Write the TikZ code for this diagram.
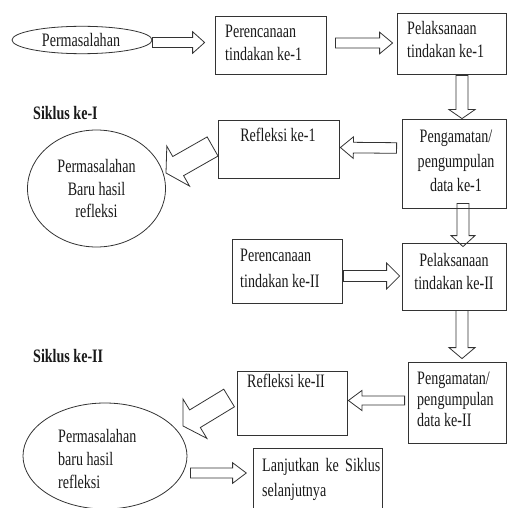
\documentclass[tikz,border=0pt]{standalone}
\usepackage{fontspec}
\setmainfont{Liberation Serif}[FakeStretch=0.74]
\usetikzlibrary{calc,shapes.geometric}
\definecolor{linec}{gray}{0.2}
\newcommand\tp{\rule{0pt}{16pt}}
\newcommand\blkarrow[5]{%
  \draw[arrowline]
    ($(#1)!#3!90:(#2)$) --
    ($($(#2)!#5!(#1)$)!#3!90:(#2)$) --
    ($($(#2)!#5!(#1)$)!#4!90:(#2)$) --
    (#2) --
    ($($(#2)!#5!(#1)$)!#4!-90:(#2)$) --
    ($($(#2)!#5!(#1)$)!#3!-90:(#2)$) --
    ($(#1)!#3!-90:(#2)$) -- cycle;}
\tikzset{
  boxs/.style={draw=linec, line width=0.8pt, rectangle, inner sep=0pt},
  ells/.style={draw=linec, line width=0.8pt, ellipse, inner sep=0pt},
  arrowline/.style={draw=linec, line width=0.8pt, line join=miter},
  txt/.style={inner sep=0pt, text=black!90, font=\fontsize{19}{23.5}\selectfont},
  txtl/.style={txt, anchor=north west, align=left},
  txtc/.style={txt, anchor=north, align=center},
  head/.style={inner sep=0pt, anchor=north west, text=black!90, font=\fontsize{19}{22}\selectfont\bfseries}
}
\begin{document}
\begin{tikzpicture}[x=1pt, y=-1pt]
\useasboundingbox (0,0) rectangle (507,508);
\clip (0,0) rectangle (507,508);

% shapes
\node[ells, minimum width=140pt, minimum height=27.4pt] (ell1) at (82,40) {};
\node[boxs, minimum width=111pt, minimum height=58pt] (box1) at (270.5,45) {};
\node[boxs, minimum width=109pt, minimum height=61pt] (box2) at (451.5,43.5) {};
\node[boxs, minimum width=104pt, minimum height=89pt] (box3) at (454,163.5) {};
\node[boxs, minimum width=121pt, minimum height=58pt] (refl1) at (278.5,149) {};
\node[ells, minimum width=138pt, minimum height=117pt] (ell2) at (96.5,188.5) {};
\node[boxs, minimum width=110pt, minimum height=64pt] (per2) at (287,271) {};
\node[boxs, minimum width=104pt, minimum height=67pt] (pel2) at (454,276.5) {};
\node[boxs, minimum width=98pt, minimum height=81pt] (peng2) at (457,402.5) {};
\node[boxs, minimum width=110pt, minimum height=64pt] (refl2) at (292,403) {};
\node[ells, minimum width=164pt, minimum height=106pt] (ell3) at (105,456) {};
\node[boxs, minimum width=129pt, minimum height=67pt] (lanj) at (317.5,481.5) {};

% texts
\node[txt, anchor=center] (t0) at (81,40) {Permasalahan};
\node[txtl] (t1) at (225,21.3) {\tp Perencanaan\\tindakan ke-1};
\node[txtl, font=\fontsize{19}{23}\selectfont] (t2) at (407,18.3) {\tp Pelaksanaan\\tindakan ke-1};
\node[txtc, font=\fontsize{19}{24.5}\selectfont] (t3) at (456,126.3) {\tp Pengamatan/\\pengumpulan\\data ke-1};
\node[txtc] (t4) at (278,125.3) {\tp Refleksi ke-1};
\node[txtc, font=\fontsize{19}{22.5}\selectfont] (t5) at (96.5,156.3) {\tp Permasalahan\\Baru hasil\\refleksi};
\node[txtl, font=\fontsize{19}{26}\selectfont] (t6) at (240,245.3) {\tp Perencanaan\\tindakan ke-II};
\node[txtc, font=\fontsize{19}{23}\selectfont] (t7) at (454,250.3) {\tp Pelaksanaan\\tindakan ke-II};
\node[txtl, font=\fontsize{19}{21}\selectfont] (t8) at (417,368.3) {\tp Pengamatan/\\pengumpulan\\data ke-II};
\node[txtl] (t9) at (247,371.3) {\tp Refleksi ke-II};
\node[txtl, font=\fontsize{19}{23}\selectfont] (t10) at (58,426.3) {\tp Permasalahan\\baru hasil\\refleksi};
\node[txtl, font=\fontsize{19}{25}\selectfont] (t11) at (262,455.3) {\tp Lanjutkan\hspace{0.15em} ke\hspace{0.15em} Siklus\\selanjutnya};
\node[head] (s1) at (33,103.3) {\tp Siklus ke-I};
\node[head] (s2) at (33,346.3) {\tp Siklus ke-II};

% arrow end points
\coordinate (a1s) at ($(ell1.east)+(0,2.5)$);
\coordinate (a1e) at ($(box1.west)+(-10,-2.5)$);
\coordinate (a2s) at ($(box1.east)+(9,-2)$);
\coordinate (a2e) at ($(box2.west)+(-4,-0.5)$);
\coordinate (d1s) at ($(box2.south)+(10.5,1)$);
\coordinate (d1e) at (box3.north -| d1s);
\coordinate (l1s) at ($(box3.west)+(-5,-15.5)$);
\coordinate (l1e) at ($(refl1.east)+(1,-1.5)$);
\coordinate (g1s) at ($(refl1.west)+(-5,-2.5)$);
\coordinate (g1e) at (166,173);
\coordinate (d2s) at ($(box3.south)+(9,-5)$);
\coordinate (d2e) at ($(pel2.north)+(9,4)$);
\coordinate (r2s) at ($(per2.east)+(1,5)$);
\coordinate (r2e) at ($(pel2.west)+(-2,-0.5)$);
\coordinate (d3s) at ($(pel2.south)+(8,0)$);
\coordinate (d3e) at ($(peng2.north)+(5,-3)$);
\coordinate (l2s) at ($(peng2.west)+(-3,-2)$);
\coordinate (l2e) at ($(refl2.east)+(1,-2.5)$);
\coordinate (g2s) at ($(refl2.west)+(-7.5,-5)$);
\coordinate (g2e) at (183,426);
\coordinate (r3s) at ($(ell3.east)+(3,17)$);
\coordinate (r3e) at ($(lanj.west)+(-6.3,-8.5)$);

% block arrows
\blkarrow{a1s}{a1e}{5pt}{10.8pt}{12pt}
\blkarrow{a2s}{a2e}{5pt}{10.8pt}{13pt}
\blkarrow{d1s}{d1e}{6pt}{13pt}{9pt}
\blkarrow{l1s}{l1e}{5.3pt}{10.8pt}{13pt}
\blkarrow{g1s}{g1e}{11pt}{23pt}{14pt}
\blkarrow{d2s}{d2e}{6pt}{12pt}{11pt}
\blkarrow{r2s}{r2e}{5.5pt}{13pt}{13pt}
\blkarrow{d3s}{d3e}{6pt}{13pt}{11pt}
\blkarrow{l2s}{l2e}{4.5pt}{10pt}{13.5pt}
\blkarrow{g2s}{g2e}{10.3pt}{23pt}{14pt}
\blkarrow{r3s}{r3e}{5pt}{10.3pt}{13.7pt}
\end{tikzpicture}
\end{document}
